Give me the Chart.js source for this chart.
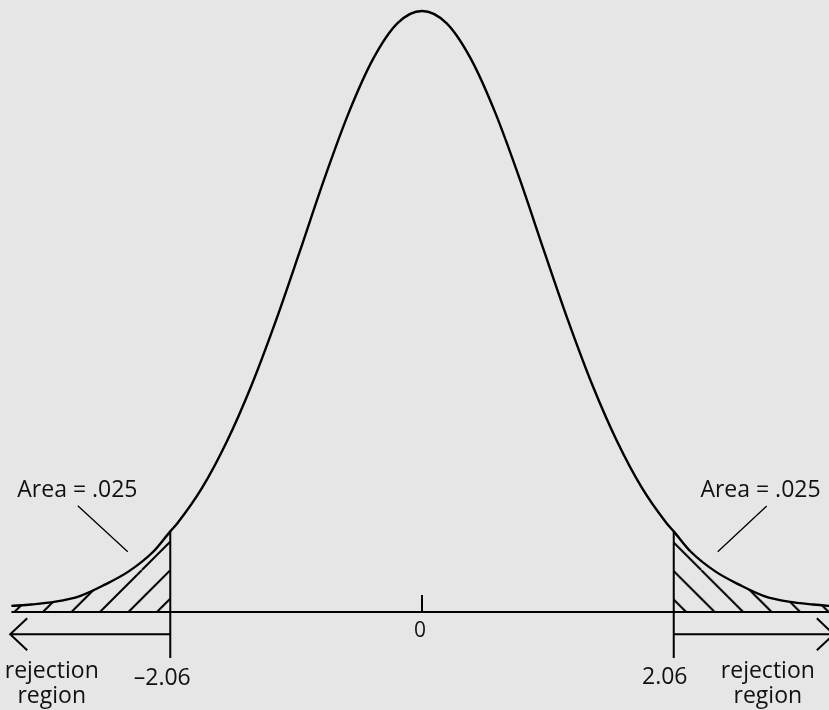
<!DOCTYPE html>
<html>
<head>
<meta charset="utf-8">
<script src="https://cdn.jsdelivr.net/npm/chart.js@4.4.1/dist/chart.umd.min.js"></script>
<style>
  html, body { margin: 0; padding: 0; background: #e6e6e6; }
  #chart { display: block; }
</style>
</head>
<body>
<canvas id="chart" width="829" height="710"></canvas>
<script>
const tValues = [-3.36, -3.2, -3.0, -2.8, -2.6, -2.4, -2.2, -2.06, -2.0, -1.8, -1.6, -1.4, -1.2, -1.0, -0.8, -0.6, -0.4, -0.2, 0,
  0.2, 0.4, 0.6, 0.8, 1.0, 1.2, 1.4, 1.6, 1.8, 2.0, 2.06, 2.2, 2.4, 2.6, 2.8, 3.0, 3.2, 3.4]
const density = [0.0040, 0.0049, 0.0068, 0.0105, 0.0178, 0.0267, 0.0396, 0.0530, 0.0585, 0.0815, 0.1115, 0.1480, 0.1905, 0.2370, 0.2845, 0.3280, 0.3635, 0.3870, 0.3950,
  0.3870, 0.3635, 0.3280, 0.2845, 0.2370, 0.1905, 0.1480, 0.1115, 0.0815, 0.0585, 0.0530, 0.0396, 0.0267, 0.0178, 0.0105, 0.0068, 0.0049, 0.0036]
const criticalValues = [-2.06, 2.06]
const criticalLabels = ['\u20132.06', '2.06']
const tickValues = [0]
const tickLabels = ['0']
const areaLabel = 'Area = .025'
const regionLabel = ['rejection', 'region']

const FONT = '23px "Open Sans", "Noto Sans", sans-serif'
const INK = '#111'
const HATCH_GAP = 28.5

const curve = tValues.map((t, i) => ({ x: t, y: density[i] }))
const leftTail = curve.filter(p => p.x <= criticalValues[0])
const rightTail = curve.filter(p => p.x >= criticalValues[1])

// diagonal hatch tile, dir 1 = "/", dir -1 = "\"
function makeHatch(dir) {
  const size = HATCH_GAP * 2
  const tile = document.createElement('canvas')
  tile.width = size
  tile.height = size
  const c = tile.getContext('2d')
  c.strokeStyle = '#000'
  c.lineWidth = 2
  c.beginPath()
  for (let k = -3; k <= 5; k++) {
    const o = k * HATCH_GAP
    if (dir > 0) {
      c.moveTo(o, 0)
      c.lineTo(o - size, size)
    } else {
      c.moveTo(o, 0)
      c.lineTo(o + size, size)
    }
  }
  c.stroke()
  return document.getElementById('chart').getContext('2d').createPattern(tile, 'repeat')
}

const hatchLeft = makeHatch(1)
const hatchRight = makeHatch(-1)

const mod = (a, m) => ((a % m) + m) % m

const decorations = {
  id: 'decorations',
  beforeDraw(chart) {
    const { ctx, width, height, scales: { x, y } } = chart
    ctx.save()
    ctx.fillStyle = '#e6e6e6'
    ctx.fillRect(0, 0, width, height)
    ctx.restore()
    // line the hatching up with the critical values
    const base = y.getPixelForValue(0)
    const lx = x.getPixelForValue(criticalValues[0]) - 13.4
    const rx = x.getPixelForValue(criticalValues[1]) + 12.4
    hatchLeft.setTransform(new DOMMatrix().translate(mod(lx + base, HATCH_GAP), 0))
    hatchRight.setTransform(new DOMMatrix().translate(mod(rx - base, HATCH_GAP), 0))
  },
  afterDatasetsDraw(chart) {
    const { ctx, scales: { x, y } } = chart
    const base = y.getPixelForValue(0)
    const px = v => x.getPixelForValue(v)
    ctx.save()
    ctx.strokeStyle = '#000'
    ctx.lineCap = 'butt'
    ctx.lineWidth = 2

    // horizontal axis
    ctx.beginPath()
    ctx.moveTo(px(tValues[0]), base)
    ctx.lineTo(px(tValues[tValues.length - 1]), base)
    ctx.stroke()

    // tick at 0
    tickValues.forEach(v => {
      ctx.beginPath()
      ctx.moveTo(px(v), base - 17)
      ctx.lineTo(px(v), base)
      ctx.stroke()
    })

    // critical value lines
    criticalValues.forEach(v => {
      const top = y.getPixelForValue(density[tValues.indexOf(v)])
      ctx.beginPath()
      ctx.moveTo(px(v), top)
      ctx.lineTo(px(v), base + 46)
      ctx.stroke()
    })

    // rejection region arrows
    const ay = base + 22.3
    const leftTip = px(-3.37)
    const rightTip = px(3.37)
    ctx.beginPath()
    ctx.moveTo(px(criticalValues[0]), ay)
    ctx.lineTo(leftTip, ay)
    ctx.moveTo(leftTip + 17, ay - 16)
    ctx.lineTo(leftTip, ay)
    ctx.lineTo(leftTip + 17, ay + 16)
    ctx.moveTo(px(criticalValues[1]), ay)
    ctx.lineTo(rightTip, ay)
    ctx.moveTo(rightTip - 17, ay - 16)
    ctx.lineTo(rightTip, ay)
    ctx.lineTo(rightTip - 17, ay + 16)
    ctx.stroke()

    // leader lines for the area labels
    ctx.lineWidth = 1.3
    ctx.beginPath()
    ctx.moveTo(px(-2.817), base - 106.3)
    ctx.lineTo(px(-2.408), base - 60.3)
    ctx.moveTo(px(2.821), base - 106)
    ctx.lineTo(px(2.420), base - 60.3)
    ctx.stroke()

    // texts
    ctx.fillStyle = INK
    ctx.font = FONT
    ctx.textAlign = 'center'
    ctx.textBaseline = 'alphabetic'
    ctx.fillText(areaLabel, px(-2.82), base - 115)
    ctx.fillText(areaLabel, px(2.77), base - 115)
    ctx.fillText(regionLabel[0], px(-3.03), base + 66)
    ctx.fillText(regionLabel[1], px(-3.03), base + 91)
    ctx.fillText(regionLabel[0], px(2.83), base + 66)
    ctx.fillText(regionLabel[1], px(2.83), base + 91)
    ctx.fillText(criticalLabels[0], px(criticalValues[0]) - 8, base + 73)
    ctx.fillText(criticalLabels[1], px(criticalValues[1]) - 9, base + 72)
    ctx.font = '21px "Open Sans", "Noto Sans", sans-serif'
    tickValues.forEach((v, i) => ctx.fillText(tickLabels[i], px(v) - 2, base + 25))
    ctx.restore()
  }
}

new Chart(document.getElementById('chart'), {
  type: 'line',
  data: {
    datasets: [
      {
        label: 'density',
        data: curve,
        borderColor: '#000',
        borderWidth: 2.4,
        fill: false,
        cubicInterpolationMode: 'monotone',
        pointRadius: 0
      },
      {
        label: 'left tail',
        data: leftTail,
        borderWidth: 0,
        borderColor: 'rgba(0,0,0,0)',
        backgroundColor: hatchLeft,
        fill: 'origin',
        cubicInterpolationMode: 'monotone',
        pointRadius: 0
      },
      {
        label: 'right tail',
        data: rightTail,
        borderWidth: 0,
        borderColor: 'rgba(0,0,0,0)',
        backgroundColor: hatchRight,
        fill: 'origin',
        cubicInterpolationMode: 'monotone',
        pointRadius: 0
      }
    ]
  },
  options: {
    responsive: false,
    animation: false,
    devicePixelRatio: 1,
    events: [],
    layout: { padding: 0 },
    plugins: {
      legend: { display: false },
      tooltip: { enabled: false }
    },
    scales: {
      x: { type: 'linear', display: false, min: -3.4534, max: 3.3306 },
      y: { type: 'linear', display: false, min: -0.0644, max: 0.4022 }
    }
  },
  plugins: [decorations]
})
</script>
</body>
</html>
